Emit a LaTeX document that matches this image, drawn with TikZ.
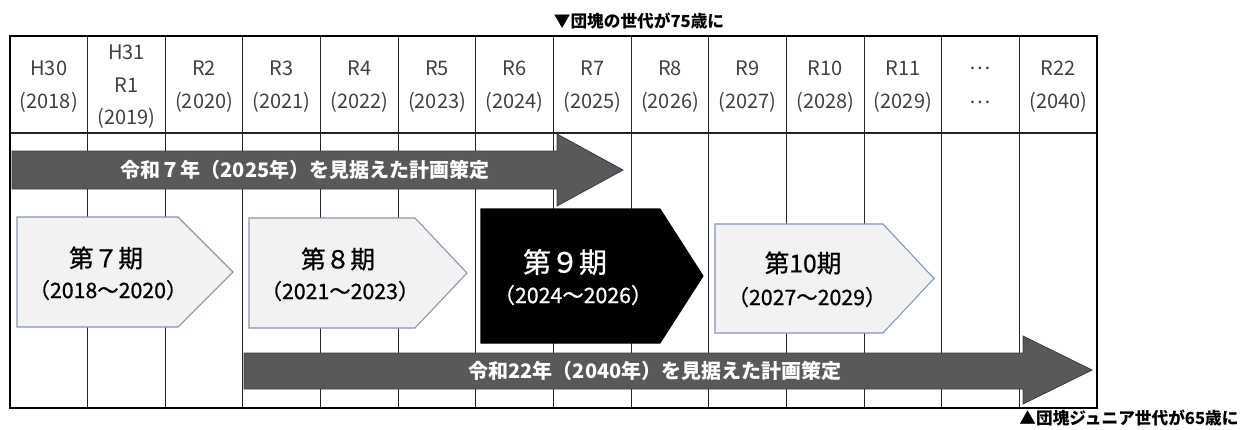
\documentclass[tikz,border=0pt]{standalone}
\usepackage{fontspec}
\setmainfont{Noto Sans CJK JP}
\newfontfamily\pentfont[FakeBold=0.8]{Noto Sans CJK JP}
\definecolor{hdrtext}{HTML}{404040}
\definecolor{arrowfill}{HTML}{595959}
\definecolor{arrowline}{HTML}{2F3E55}
\definecolor{pentfill}{HTML}{F2F2F2}
\definecolor{pentline}{HTML}{8497B0}
\begin{document}
\begin{tikzpicture}[x=0.75pt,y=-0.75pt,
  gridline/.style={line width=0.8pt,draw=black!85},
  hdr/.style={text=hdrtext,font=\fontsize{15}{18}\selectfont,inner sep=0pt,anchor=center},
  bigarrow/.style={fill=arrowfill,draw=arrowline,line width=0.6pt},
  arrowtext/.style={text=white,font=\bfseries\fontsize{15}{18}\selectfont,inner sep=0pt},
  pent/.style={fill=pentfill,draw=pentline,line width=0.8pt},
  pentblack/.style={fill=black,draw=black,line width=0.8pt},
  penttitle/.style={font=\pentfont\fontsize{18.5}{22}\selectfont,inner sep=0pt},
  pentyears/.style={font=\pentfont\fontsize{16}{19}\selectfont,inner sep=0pt},
  note/.style={font=\bfseries\fontsize{12.5}{15}\selectfont,inner sep=0pt}]
\useasboundingbox (0,0) rectangle (1241,429);
% grid
\foreach \i in {1,...,13} \draw[gridline] ({10+\i*77.64},36) -- ({10+\i*77.64},408);
\draw[gridline] (10,133) -- (1097,133);
\draw[line width=2pt] (10,36) rectangle (1097,408);
% header
\node[hdr] (h1a) at (48.8,68) {H30};
\node[hdr] (h1b) at (48.8,102) {(2018)};
\node[hdr] (h2a) at (126.5,52) {H31};
\node[hdr] (h2b) at (126.5,85) {R1};
\node[hdr] (h2c) at (126.5,118) {(2019)};
\node[hdr] (h3a) at (204.1,68) {R2};
\node[hdr] (h3b) at (204.1,102) {(2020)};
\node[hdr] (h4a) at (281.7,68) {R3};
\node[hdr] (h4b) at (281.7,102) {(2021)};
\node[hdr] (h5a) at (359.4,68) {R4};
\node[hdr] (h5b) at (359.4,102) {(2022)};
\node[hdr] (h6a) at (437.0,68) {R5};
\node[hdr] (h6b) at (437.0,102) {(2023)};
\node[hdr] (h7a) at (514.7,68) {R6};
\node[hdr] (h7b) at (514.7,102) {(2024)};
\node[hdr] (h8a) at (592.3,68) {R7};
\node[hdr] (h8b) at (592.3,102) {(2025)};
\node[hdr] (h9a) at (670.0,68) {R8};
\node[hdr] (h9b) at (670.0,102) {(2026)};
\node[hdr] (h10a) at (747.6,68) {R9};
\node[hdr] (h10b) at (747.6,102) {(2027)};
\node[hdr] (h11a) at (825.2,68) {R10};
\node[hdr] (h11b) at (825.2,102) {(2028)};
\node[hdr] (h12a) at (902.9,68) {R11};
\node[hdr] (h12b) at (902.9,102) {(2029)};
\node[hdr] (h13a) at (980.5,68) {…};
\node[hdr] (h13b) at (980.5,102) {…};
\node[hdr] (h14a) at (1058.2,68) {R22};
\node[hdr] (h14b) at (1058.2,102) {(2040)};
% notes
\node[note] (top) at (639,21) {▼団塊の世代が75歳に};
\node[note] (bottom) at (1129,418) {▲団塊ジュニア世代が65歳に};
% big arrows
\draw[bigarrow] (12,151) -- (557,151) -- (557,134) -- (623,170) -- (557,206) -- (557,189) -- (12,189) -- cycle;
\node[arrowtext] (a1) at (305,170) {令和７年（2025年）を見据えた計画策定};
\draw[bigarrow] (244,353) -- (1023,353) -- (1023,336) -- (1092,370) -- (1023,404) -- (1023,389) -- (244,389) -- cycle;
\node[arrowtext] (a2) at (655,371) {令和22年（2040年）を見据えた計画策定};
% pentagons
\draw[pent] (17,217) -- (178,217) -- (233,272) -- (178,327) -- (17,327) -- cycle;
\node[penttitle] (p7a) at (106,258) {第７期};
\node[pentyears] (p7b) at (108,290) {（2018～2020）};
\draw[pent] (249,218) -- (415,218) -- (467,273) -- (415,328) -- (249,328) -- cycle;
\node[penttitle] (p8a) at (338,259) {第８期};
\node[pentyears] (p8b) at (340,291) {（2021～2023）};
\draw[pentblack] (481,209) -- (660,209) -- (703,276) -- (660,343) -- (481,343) -- cycle;
\node[penttitle,text=white,font=\pentfont\fontsize{21}{25}\selectfont] (p9a) at (565,262) {第９期};
\node[pentyears,text=white] (p9b) at (573,295) {（2024～2026）};
\draw[pent] (715,224) -- (883,224) -- (934,278.5) -- (883,333) -- (715,333) -- cycle;
\node[penttitle] (p10a) at (803,263) {第10期};
\node[pentyears] (p10b) at (807,297) {（2027～2029）};
\end{tikzpicture}
\end{document}
